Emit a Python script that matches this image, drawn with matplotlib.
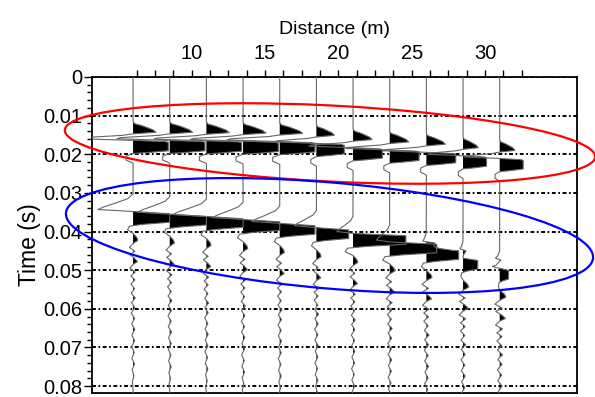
import numpy as np
import matplotlib
matplotlib.use('Agg')
import matplotlib.pyplot as plt
from matplotlib import font_manager
from matplotlib.patches import Ellipse

# trace offsets along the line (m)
offsets = [6.0, 8.5, 11.0, 13.5, 16.0, 18.5, 21.0, 23.5, 26.0, 28.5, 31.0]

# first arrival (red ellipse): time of the main peak (s) and its size (m)
first_times = [0.0181, 0.0181, 0.0182, 0.0183, 0.0184, 0.0189,
               0.0200, 0.0206, 0.0212, 0.0221, 0.0228]
first_amps = [2.4, 2.4, 2.4, 2.4, 2.4, 1.9, 2.0, 2.0, 2.0, 1.6, 1.6]

# second event (blue ellipse): main peak time, peak size, trough size
second_times = [0.0365, 0.0372, 0.0378, 0.0386, 0.0396, 0.0407,
                0.0422, 0.0444, 0.0461, 0.0486, 0.0512]
second_amps = [2.5, 2.5, 2.5, 2.5, 2.4, 2.2, 3.6, 3.2, 2.2, 1.0, 0.6]
trough_amps = [2.4, 2.2, 2.3, 2.1, 1.9, 1.5, 1.1, 0.9, 0.4, 0.5, 0.8]

# weaker peak ahead of the second event on the far traces
early_times = [0, 0, 0, 0, 0, 0, 0, 0, 0.0437, 0.0457, 0.0481]
early_amps = [0, 0, 0, 0, 0, 0, 0, 0, 0.9, 0.5, 0.5]

coda_scale = [1.0, 1.0, 1.0, 1.0, 1.0, 1.0, 1.0, 1.1, 1.2, 1.2, 1.3]

# pulse shapes picked off the section, times relative to the main peak
first_t = [-0.0065, -0.0060, -0.0055, -0.0045, -0.0038, -0.0034, -0.0030,
           -0.0024, -0.0021, -0.0018, -0.0014, -0.0012, 0.0010, 0.0014,
           0.0017, 0.0024, 0.0034, 0.0042]
first_a = [0, 0.05, 0.25, 0.55, 0.65, 0.0, -0.3, -1.4, -1.5, -0.3, 0.9,
           1.0, 1.0, 0.5, 0.0, -0.2, -0.2, 0.0]
trough_t = [-0.0062, -0.0050, -0.0040, -0.0030, -0.0022, -0.0017]
trough_a = [0, -0.15, -0.45, -0.8, -1.0, 0]
peak_t = [-0.0017, -0.0011, 0.0011, 0.0016, 0.0021, 0.0030, 0.0040]
peak_a = [0, 1.0, 1.0, 0.3, -0.1, -0.15, 0]
early_t = [-0.0012, -0.0007, 0.0007, 0.0012]
early_a = [0, 1.0, 1.0, 0]
coda_t = [0.0040, 0.0050, 0.0058, 0.0066, 0.0076, 0.0086, 0.0095, 0.0104,
          0.0113, 0.0120, 0.0130, 0.0140, 0.0150, 0.0160, 0.0171, 0.0183,
          0.0195, 0.0207, 0.0219, 0.0232, 0.0246, 0.0260, 0.0274, 0.0288,
          0.0303, 0.0318, 0.0333, 0.0348, 0.0363, 0.0378, 0.0393, 0.0408,
          0.0423, 0.0438]
coda_a = [0, 0.25, 0.32, 0.0, -0.25, 0.12, -0.2, 0.1, 0.3, 0.0,
          -0.22, 0.15, -0.15, 0.12, -0.15, 0.1, -0.12, 0.15, -0.1, 0.12,
          -0.12, 0.1, -0.1, 0.12, -0.08, 0.1, -0.1, 0.08, -0.08, 0.1,
          -0.06, 0.06, -0.05, 0]

dist_ticks = [10, 15, 20, 25, 30]
dist_labels = ['10', '15', '20', '25', '30']
time_ticks = [0, 0.01, 0.02, 0.03, 0.04, 0.05, 0.06, 0.07, 0.08]
time_labels = ['0', '0.01', '0.02', '0.03', '0.04', '0.05', '0.06', '0.07',
               '0.08']


def pick_family(names):
    for name in names:
        try:
            font_manager.findfont(name, fallback_to_default=False)
            return name
        except ValueError:
            pass
    return 'DejaVu Sans'


narrow = pick_family(['Liberation Sans Narrow'])
if narrow == 'Liberation Sans Narrow':
    tick_font, tick_size = narrow, 17
else:
    tick_font, tick_size = pick_family(['Liberation Sans', 'Arial']), 14.5
label_font = pick_family(['Liberation Sans', 'Arial'])

time = np.linspace(0, 0.0818, 1637)


def pulse(t0, shape_t, shape_a, scale):
    return scale * np.interp(time - t0, shape_t, shape_a, left=0, right=0)


fig = plt.figure(figsize=(5.95, 3.97), dpi=100)
ax = fig.add_axes([92 / 595, 1 - 393 / 397, 485 / 595, 316 / 397])

for i, x0 in enumerate(offsets):
    amp = (pulse(first_times[i], first_t, first_a, first_amps[i])
           + pulse(second_times[i], trough_t, trough_a, trough_amps[i])
           + pulse(second_times[i], peak_t, peak_a, second_amps[i])
           + pulse(second_times[i], coda_t, coda_a, coda_scale[i])
           + pulse(early_times[i], early_t, early_a, early_amps[i]))
    ax.fill_betweenx(time, x0, x0 + amp, where=amp > 0, interpolate=True,
                     color='black', lw=0, zorder=2)
    ax.plot(x0 + amp, time, color='0.4', lw=0.8, zorder=3)

ax.set_xlim(3.2, 36.27)
ax.set_ylim(0.0818, 0)

ax.xaxis.tick_top()
ax.xaxis.set_label_position('top')
ax.set_xticks(dist_ticks)
ax.set_xticklabels(dist_labels)
ax.set_xticks(np.arange(6.25, 32.6, 1.25), minor=True)
ax.tick_params(axis='x', which='both', direction='out', length=5, width=1,
               pad=5, labelsize=tick_size)
ax.set_yticks(time_ticks)
ax.set_yticklabels(time_labels)
ax.set_yticks(np.arange(0, 0.0801, 0.002), minor=True)
ax.tick_params(axis='y', which='major', direction='out', length=6, width=1,
               pad=1, labelsize=tick_size)
ax.tick_params(axis='y', which='minor', direction='out', length=3.5,
               width=1)
for lab in ax.get_xticklabels() + ax.get_yticklabels():
    lab.set_family(tick_font)

ax.grid(axis='y', which='major', color='black', lw=1.4,
        linestyle=(0, (2.0, 1.3, 0.9, 1.3)), zorder=1)
ax.set_axisbelow(True)
for side in ax.spines.values():
    side.set_linewidth(1.3)

ax.set_xlabel('Distance (m)', family=tick_font, fontsize=14,
              labelpad=7)
ax.set_ylabel('Time (s)', family=label_font, fontsize=16.5)
ax.yaxis.set_label_coords(-0.105, 0.47)

# hand-drawn ellipses marking the two events, in pixel units
over = fig.add_axes([0, 0, 1, 1])
over.set_xlim(0, 595)
over.set_ylim(397, 0)
over.axis('off')
over.patch.set_alpha(0)
over.add_patch(Ellipse((330, 143.5), 531, 76, angle=2.9, fill=False,
                       edgecolor='#ff0000', lw=1.6))
over.add_patch(Ellipse((329.5, 235.5), 529, 106, angle=4.9, fill=False,
                       edgecolor='#0000ff', lw=1.6))

fig.savefig('out.png', dpi=100)
